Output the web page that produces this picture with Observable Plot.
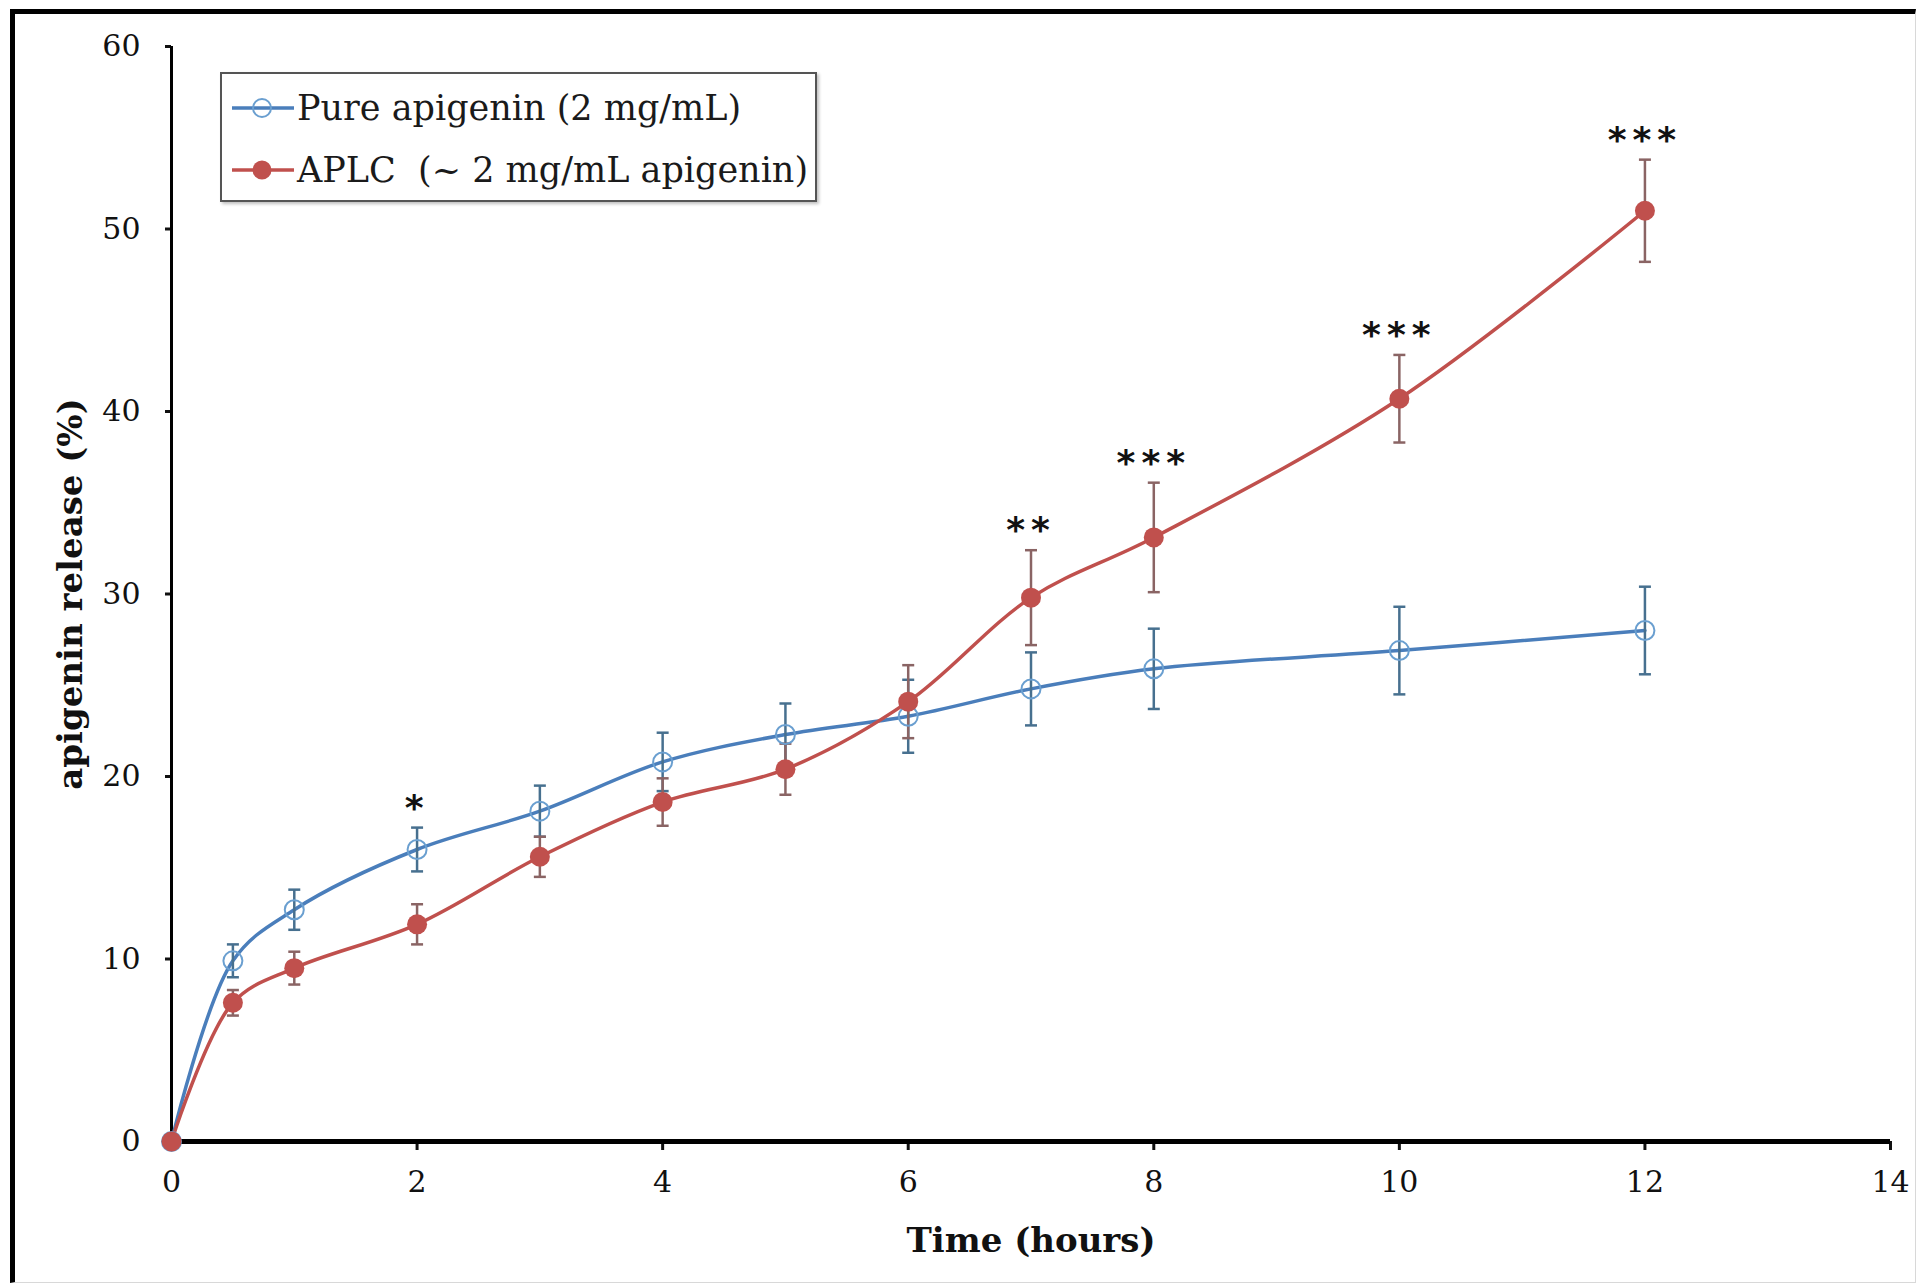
<!DOCTYPE html>
<html>
<head>
<meta charset="utf-8">
<script src="https://cdn.jsdelivr.net/npm/d3@7"></script>
<script src="https://cdn.jsdelivr.net/npm/@observablehq/plot@0.6"></script>
<style>
  html, body { margin: 0; padding: 0; background: #fff; }
  #wrap { position: relative; width: 1918px; height: 1286px; overflow: hidden; background: #fff; }
  #frame { position: absolute; left: 10px; top: 9px; width: 1900px; height: 1268px;
           border-left: 5px solid #000; border-top: 5px solid #000;
           border-right: 1px solid #d8d8d8; border-bottom: 1px solid #d8d8d8; pointer-events: none; }
  #legend { position: absolute; left: 220px; top: 72px; width: 593px; height: 126px;
            border: 2px solid #555; background: #fff; box-shadow: 2px 2px 3px rgba(0,0,0,0.25);
            font-family: "DejaVu Serif", serif; font-size: 35px; color: #1a1a1a; }
  .item { position: absolute; left: 10px; height: 50px; display: flex; align-items: center; white-space: pre; }
  .item svg { margin-right: 3px; }
</style>
</head>
<body>
<div id="wrap">
  <div id="chart"></div>
  <div id="legend"></div>
  <div id="frame"></div>
</div>
<script>
// ---- data ----
const times     = [0, 0.5, 1, 2, 3, 4, 5, 6, 7, 8, 10, 12];
const pureMean  = [0, 9.9, 12.7, 16.0, 18.1, 20.8, 22.3, 23.3, 24.8, 25.9, 26.9, 28.0];
const pureErr   = [0, 0.9, 1.1, 1.2, 1.4, 1.6, 1.7, 2.0, 2.0, 2.2, 2.4, 2.4];
const aplcMean  = [0, 7.6, 9.5, 11.9, 15.6, 18.6, 20.4, 24.1, 29.8, 33.1, 40.7, 51.0];
const aplcErr   = [0, 0.7, 0.9, 1.1, 1.1, 1.3, 1.4, 2.0, 2.6, 3.0, 2.4, 2.8];
const seriesNames = ["Pure apigenin (2 mg/mL)", "APLC  (~ 2 mg/mL apigenin)"];
const annotTimes  = [2, 7, 8, 10, 12];
const annotLabels = ["*", "**", "***", "***", "***"];
const xTicks = [0, 2, 4, 6, 8, 10, 12, 14];
const yTicks = [0, 10, 20, 30, 40, 50, 60];

// ---- build tables ----
const blue = "#4a7ebb", red = "#c0504d";
const blueErrCol = "#47708f", redErrCol = "#8a6464";
const pure = times.map((t, i) => ({t, v: pureMean[i], e: pureErr[i]}));
const aplc = times.map((t, i) => ({t, v: aplcMean[i], e: aplcErr[i]}));
const annots = annotTimes.map((t, i) => {
  const k = times.indexOf(t);
  return {t, label: annotLabels[i], y: Math.max(pureMean[k] + pureErr[k], aplcMean[k] + aplcErr[k])};
});
const capSymbol = {draw(ctx, size) { const w = Math.sqrt(size / Math.PI); ctx.moveTo(-w, 0); ctx.lineTo(w, 0); }};

function errMarks(data, color) {
  const d = data.filter(r => r.e > 0);
  return [
    Plot.ruleX(d, {x: "t", y1: r => r.v - r.e, y2: r => r.v + r.e, stroke: color, strokeWidth: 2.5}),
    Plot.dot(d, {x: "t", y: r => r.v + r.e, symbol: capSymbol, r: 6, stroke: color, strokeWidth: 2.5, fill: "none"}),
    Plot.dot(d, {x: "t", y: r => r.v - r.e, symbol: capSymbol, r: 6, stroke: color, strokeWidth: 2.5, fill: "none"})
  ];
}

const chart = Plot.plot({
  width: 1918,
  height: 1286,
  marginLeft: 171,
  marginRight: 28,
  marginTop: 46,
  marginBottom: 145,
  style: {fontFamily: "DejaVu Serif, serif", fontSize: "30px", color: "#111", background: "transparent"},
  x: {domain: [0, 14]},
  y: {domain: [0, 60]},
  marks: [
    Plot.axisX({ticks: xTicks, tickSize: 9, tickPadding: 20, strokeWidth: 3, label: "Time (hours)",
                labelAnchor: "center", labelArrow: "none", labelOffset: 110}),
    Plot.axisY({ticks: yTicks, tickSize: 6, tickPadding: 25, strokeWidth: 3, label: "apigenin release (%)",
                labelAnchor: "center", labelArrow: "none", labelOffset: 114}),
    Plot.ruleX([0], {stroke: "#000", strokeWidth: 3}),
    Plot.ruleY([0], {stroke: "#000", strokeWidth: 5}),
    Plot.line(pure, {x: "t", y: "v", stroke: blue, strokeWidth: 3.5, curve: "catmull-rom"}),
    Plot.line(aplc, {x: "t", y: "v", stroke: red, strokeWidth: 3.5, curve: "catmull-rom"}),
    ...errMarks(pure, blueErrCol),
    ...errMarks(aplc, redErrCol),
    Plot.dot(pure, {x: "t", y: "v", r: 9.5, stroke: "#6a9fd0", strokeWidth: 2, fill: "none"}),
    Plot.dot(aplc, {x: "t", y: "v", r: 10, fill: red, stroke: "none"}),
    Plot.text(annots, {x: "t", y: "y", text: "label", dy: -8, lineAnchor: "bottom", fontSize: 36,
                       fontFamily: "DejaVu Sans, sans-serif", fill: "#111", fontWeight: "bold"})
  ]
});
d3.select(chart).selectAll('[aria-label="x-axis label"] text, [aria-label="y-axis label"] text')
  .attr("font-weight", "bold").attr("font-size", 34).attr("fill", "#111");
d3.select(chart).selectAll('[aria-label="x-axis tick label"] text, [aria-label="y-axis tick label"] text')
  .attr("fill", "#111");
d3.select(chart).selectAll('[aria-label="text"] text').style("letter-spacing", "6px");
document.getElementById("chart").appendChild(chart);

// ---- legend ----
const legend = document.getElementById("legend");
[{name: seriesNames[0], color: blue, hollow: true}, {name: seriesNames[1], color: red, hollow: false}].forEach((s, i) => {
  const div = document.createElement("div");
  div.className = "item";
  div.style.top = (9 + i * 62) + "px";
  const circ = s.hollow
    ? `<circle cx="30" cy="15" r="9" fill="none" stroke="#6a9fd0" stroke-width="2"/>`
    : `<circle cx="30" cy="15" r="9.5" fill="${s.color}"/>`;
  div.innerHTML = `<svg width="62" height="30"><line x1="0" y1="15" x2="62" y2="15" stroke="${s.color}" stroke-width="3.5"/>${circ}</svg>`;
  const span = document.createElement("span");
  span.textContent = s.name;
  div.appendChild(span);
  legend.appendChild(div);
});
</script>
</body>
</html>
